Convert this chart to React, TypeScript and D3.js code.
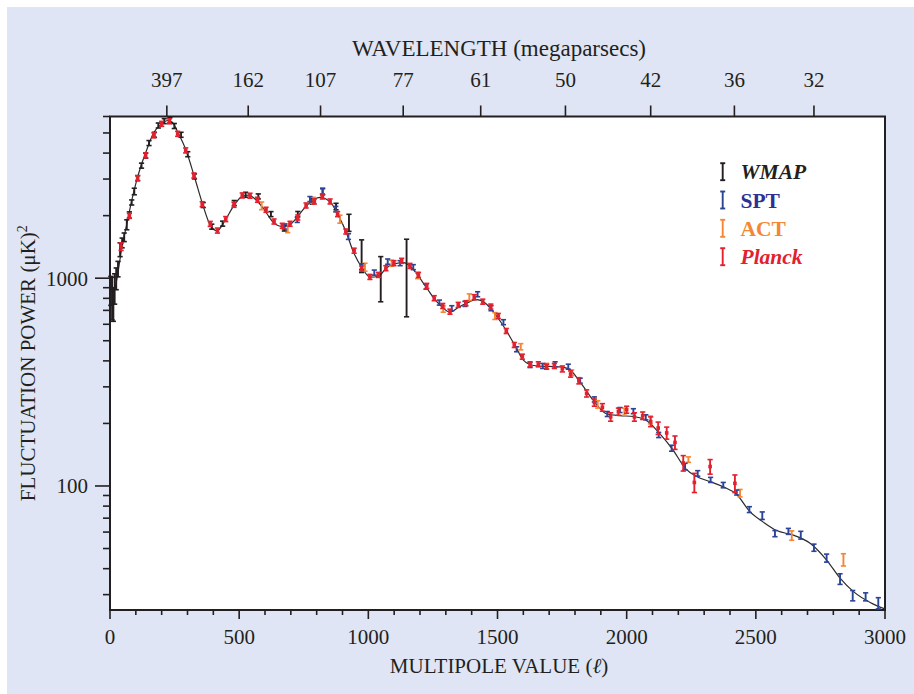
import { useEffect, useRef } from 'react';
import * as d3 from 'd3';

const WIDTH = 914;
const HEIGHT = 694;
const FONT = '"Liberation Serif", "Times New Roman", serif';

// multipole axis
const X_DOMAIN: [number, number] = [0, 3000];
const X_MAJOR = [0, 500, 1000, 1500, 2000, 2500, 3000];
// fluctuation power axis (log)
const Y_DOMAIN: [number, number] = [25.3, 6000];
const Y_LABELS = [100, 1000];
const Y_MINOR = [30, 40, 50, 60, 70, 80, 90, 200, 300, 400, 500, 600, 700, 800, 900, 2000, 3000, 4000, 5000, 6000];
// wavelength ticks on top (multipole position, label in Mpc)
const TOP_TICK_L = [220, 535, 815, 1135, 1435, 1763, 2093, 2417, 2725];
const TOP_TICK_LABELS = ['397', '162', '107', '77', '61', '50', '42', '36', '32'];

// best-fit model curve [l, D]
const MODEL: [number, number][] = [
  [2, 1000], [10, 840], [20, 900], [30, 1050], [45, 1380], [65, 1820], [84, 2365], [103, 2950],
  [123, 3565], [142, 4140], [168, 4980], [200, 5530], [222, 5740], [240, 5650], [264, 5000],
  [294, 4140], [327, 3070], [359, 2260], [387, 1810], [414, 1690], [445, 1890], [477, 2210],
  [510, 2470], [535, 2510], [568, 2365], [600, 2110], [632, 1855], [668, 1770], [697, 1810],
  [729, 2000], [761, 2235], [813, 2450], [852, 2330], [884, 2000], [914, 1670], [942, 1340],
  [974, 1130], [1007, 1011], [1039, 1022], [1071, 1122], [1103, 1173], [1136, 1187], [1168, 1122],
  [1194, 1022], [1226, 897], [1258, 788], [1290, 718], [1316, 686], [1348, 723], [1381, 759],
  [1419, 788], [1452, 759], [1484, 689], [1516, 607], [1548, 523], [1574, 459], [1600, 403],
  [1640, 380], [1700, 376], [1742, 374], [1774, 367], [1820, 316], [1871, 258], [1923, 222],
  [1974, 218], [2026, 216], [2078, 206], [2129, 178], [2181, 148], [2226, 122], [2271, 111],
  [2323, 105], [2374, 99], [2426, 91], [2478, 75], [2529, 67], [2581, 61], [2645, 58],
  [2710, 53], [2774, 44], [2826, 36], [2878, 31], [2955, 27], [3000, 25.6],
];

// measurements [l, D, error]
const WMAP: [number, number, number][] = [
  [3, 880, 140], [8, 820, 190], [13, 760, 140], [18, 900, 150], [24, 1000, 120], [31, 1110, 95],
  [39, 1375, 105], [47, 1480, 80], [55, 1575, 75], [65, 1810, 100], [75, 2015, 70], [84, 2315, 65],
  [94, 2615, 95], [107, 3030, 60], [122, 3480, 95], [138, 3890, 105], [151, 4470, 85],
  [172, 4900, 100], [187, 5430, 60], [210, 5700, 90], [232, 5760, 90], [249, 5400, 90],
  [275, 4900, 90], [301, 3950, 80], [327, 3090, 60], [361, 2250, 45], [394, 1770, 40],
  [436, 1830, 40], [481, 2300, 50], [525, 2520, 55], [574, 2475, 55], [623, 2034, 50],
  [675, 1742, 55], [727, 2034, 60], [783, 2340, 70], [823, 2614, 95], [875, 2213, 80],
  [925, 1855, 175], [974, 1297, 232], [1048, 1020, 250], [1148, 1096, 444],
];

const SPT: [number, number, number][] = [
  [675, 1773, 50], [725, 1910, 55], [774, 2403, 65], [823, 2614, 80], [874, 2150, 65],
  [923, 1587, 50], [974, 1137, 35], [1023, 1064, 30], [1075, 1202, 35], [1123, 1181, 30],
  [1174, 1130, 28], [1223, 911, 24], [1275, 763, 20], [1323, 717, 18], [1374, 752, 18],
  [1423, 837, 20], [1475, 717, 17], [1523, 614, 15], [1574, 455, 12], [1626, 382, 10],
  [1675, 378, 9], [1723, 385, 9], [1774, 375, 9], [1820, 321, 8], [1875, 261, 7],
  [1925, 222, 6], [1974, 232, 6], [2026, 229, 6], [2074, 214, 6], [2124, 176, 5],
  [2174, 152, 5], [2226, 124, 4.5], [2275, 115, 3.5], [2325, 107, 3], [2374, 101, 3],
  [2426, 93, 2.5], [2475, 77, 2.5], [2525, 72, 3], [2574, 59, 2], [2626, 60.5, 2],
  [2674, 58, 2.5], [2725, 50.5, 2], [2774, 45, 2], [2826, 35.7, 2.1], [2875, 29.7, 1.7],
  [2925, 29.3, 1.3], [2974, 27.3, 1.7],
];

const ACT: [number, number, number][] = [
  [587, 2231, 95], [688, 1742, 85], [787, 2366, 85], [890, 1925, 85], [987, 1130, 50],
  [1090, 1181, 40], [1191, 1030, 35], [1290, 711, 25], [1391, 810, 30], [1490, 658, 25],
  [1590, 468, 16], [1690, 378, 11], [1787, 351, 11], [1888, 247, 10], [1991, 228, 9],
  [2092, 208, 9], [2239, 134, 4], [2439, 92.4, 3.8], [2639, 57.8, 3], [2839, 44.2, 3],
];

const PLANCK: [number, number, number][] = [
  [43, 1420, 60], [75, 1995, 55], [107, 3030, 70], [138, 3900, 90], [170, 4870, 90],
  [200, 5530, 90], [230, 5690, 100], [262, 4950, 90], [293, 4120, 75], [325, 3120, 60],
  [357, 2270, 45], [388, 1825, 35], [416, 1695, 30], [448, 1925, 35], [480, 2256, 40],
  [512, 2501, 45], [542, 2493, 45], [571, 2384, 45], [604, 2134, 40], [635, 1874, 35],
  [667, 1787, 35], [697, 1827, 35], [727, 1959, 40], [759, 2238, 45], [791, 2340, 45],
  [822, 2473, 50], [852, 2340, 45], [881, 2034, 40], [913, 1677, 35], [945, 1356, 30],
  [974, 1113, 25], [1006, 1014, 22], [1039, 1037, 22], [1068, 1117, 24], [1099, 1181, 25],
  [1129, 1212, 26], [1161, 1146, 25], [1194, 1037, 22], [1226, 918, 20], [1255, 801, 18],
  [1288, 735, 16], [1316, 690, 15], [1348, 744, 16], [1378, 758, 17], [1410, 810, 18],
  [1443, 771, 17], [1474, 730, 16], [1503, 658, 15], [1534, 557, 13], [1565, 477, 12],
  [1596, 419, 11], [1626, 385, 10], [1658, 385, 10], [1690, 375, 10], [1720, 378, 10],
  [1751, 366, 12], [1783, 346, 12], [1815, 321, 11], [1845, 279, 11], [1875, 252, 10],
  [1906, 239, 10], [1938, 215, 10], [1968, 228, 9], [2000, 233, 9], [2030, 215, 10],
  [2062, 218, 9], [2093, 204, 11], [2122, 190, 13], [2155, 180, 12], [2187, 162, 12],
  [2219, 129, 11], [2262, 104, 11], [2323, 124, 10], [2419, 103, 10],
];

const SERIES = [
  { name: 'WMAP', color: '#231f20', text: '#231f20', italic: true, data: WMAP },
  { name: 'SPT', color: '#2b4496', text: '#2e3192', italic: false, data: SPT },
  { name: 'ACT', color: '#f58634', text: '#f58634', italic: false, data: ACT },
  { name: 'Planck', color: '#e2202e', text: '#e2202e', italic: true, data: PLANCK },
];
// drawing order (Planck on top)
const DRAW_ORDER = ['WMAP', 'ACT', 'SPT', 'Planck'];

export default function App() {
  const svgRef = useRef<SVGSVGElement>(null);

  useEffect(() => {
    if (!svgRef.current) return;
    const svg = d3.select(svgRef.current);
    svg.selectAll('*').remove();

    const left = 110, right = 885, top = 116.5, bottom = 610;
    const x = d3.scaleLinear().domain(X_DOMAIN).range([left, right]);
    const y = d3.scaleLog().domain(Y_DOMAIN).range([bottom, top]);

    svg.append('rect').attr('width', WIDTH).attr('height', HEIGHT).attr('fill', '#ffffff');
    svg.append('rect').attr('x', 7).attr('y', 7).attr('width', WIDTH - 7).attr('height', HEIGHT - 7)
      .attr('fill', '#dfe5f4');
    svg.append('rect').attr('x', left).attr('y', top).attr('width', right - left).attr('height', bottom - top)
      .attr('fill', '#ffffff');

    const ink = '#231f20';
    const axes = svg.append('g').attr('stroke', ink).attr('stroke-width', 1.6);

    // bottom ticks
    d3.range(0, 3001, 100).forEach(v => {
      const len = v % 500 === 0 ? 9 : 5;
      axes.append('line').attr('x1', x(v)).attr('x2', x(v)).attr('y1', bottom).attr('y2', bottom + len);
    });
    // left ticks
    Y_MINOR.forEach(v => {
      axes.append('line').attr('x1', left - 7).attr('x2', left).attr('y1', y(v)).attr('y2', y(v));
    });
    Y_LABELS.forEach(v => {
      axes.append('line').attr('x1', left - 15).attr('x2', left).attr('y1', y(v)).attr('y2', y(v));
    });
    // top ticks
    TOP_TICK_L.forEach(l => {
      axes.append('line').attr('x1', x(l)).attr('x2', x(l)).attr('y1', top).attr('y2', top - 11);
    });

    const text = svg.append('g').attr('font-family', FONT).attr('fill', ink).attr('font-size', 21);

    X_MAJOR.forEach(v => {
      text.append('text').attr('x', x(v)).attr('y', 644).attr('text-anchor', 'middle').text(String(v));
    });
    Y_LABELS.forEach(v => {
      text.append('text').attr('x', 88).attr('y', y(v)).attr('dy', '0.35em').attr('text-anchor', 'end').text(String(v));
    });
    TOP_TICK_L.forEach((l, i) => {
      text.append('text').attr('x', x(l)).attr('y', 87).attr('text-anchor', 'middle').text(TOP_TICK_LABELS[i]);
    });

    text.append('text').attr('x', 499).attr('y', 56).attr('text-anchor', 'middle').attr('font-size', 23)
      .text('WAVELENGTH (megaparsecs)');

    const xl = text.append('text').attr('x', 499).attr('y', 673).attr('text-anchor', 'middle');
    xl.append('tspan').text('MULTIPOLE VALUE (');
    xl.append('tspan').attr('font-style', 'italic').text('ℓ');
    xl.append('tspan').text(')');

    const yl = text.append('text').attr('transform', `translate(35,${(top + bottom) / 2}) rotate(-90)`)
      .attr('text-anchor', 'middle');
    yl.append('tspan').text('FLUCTUATION POWER (μK)');
    yl.append('tspan').attr('font-size', 14).attr('dy', -8).text('2');

    // plot frame
    svg.append('rect').attr('x', left).attr('y', top).attr('width', right - left).attr('height', bottom - top)
      .attr('fill', 'none').attr('stroke', ink).attr('stroke-width', 2);

    // model curve
    const line = d3.line<[number, number]>().x(d => x(d[0])).y(d => y(d[1])).curve(d3.curveMonotoneX);
    svg.append('path').attr('d', line(MODEL) ?? '').attr('fill', 'none').attr('stroke', '#2b2b2b')
      .attr('stroke-width', 1.2);

    // error bars
    const capW = 2.6;
    DRAW_ORDER.forEach(name => {
      const s = SERIES.find(d => d.name === name)!;
      const g = svg.append('g').attr('stroke', s.color).attr('fill', 'none');
      s.data.forEach(([l, d, e]) => {
        const cx = x(l);
        let y1 = y(d + e), y2 = y(Math.max(d - e, 1));
        if (y2 - y1 < 5) {
          const m = y(d);
          y1 = m - 2.5; y2 = m + 2.5;
        }
        g.append('line').attr('x1', cx).attr('x2', cx).attr('y1', y1).attr('y2', y2).attr('stroke-width', 1.9);
        g.append('line').attr('x1', cx - capW).attr('x2', cx + capW).attr('y1', y1).attr('y2', y1).attr('stroke-width', 1.6);
        g.append('line').attr('x1', cx - capW).attr('x2', cx + capW).attr('y1', y2).attr('y2', y2).attr('stroke-width', 1.6);
        if (name === 'Planck') {
          g.append('rect').attr('x', cx - 1.8).attr('y', y(d) - 1.8).attr('width', 3.6).attr('height', 3.6)
            .attr('fill', s.color).attr('stroke', 'none');
        }
      });
    });

    // legend
    const legendY = [171.7, 200, 228.3, 256.7];
    SERIES.forEach((s, i) => {
      const ly = legendY[i];
      const g = svg.append('g').attr('stroke', s.color).attr('stroke-width', 1.9);
      g.append('line').attr('x1', 722.7).attr('x2', 722.7).attr('y1', ly - 8.5).attr('y2', ly + 8.5);
      g.append('line').attr('x1', 720.2).attr('x2', 725.2).attr('y1', ly - 8.5).attr('y2', ly - 8.5);
      g.append('line').attr('x1', 720.2).attr('x2', 725.2).attr('y1', ly + 8.5).attr('y2', ly + 8.5);
      svg.append('text').attr('x', 740.5).attr('y', ly).attr('dy', '0.35em')
        .attr('font-family', FONT).attr('font-size', 21.5).attr('font-weight', 'bold')
        .attr('font-style', s.italic ? 'italic' : 'normal').attr('fill', s.text).text(s.name);
    });
  }, []);

  return (
    <svg ref={svgRef} width={WIDTH} height={HEIGHT}
      style={{ position: 'absolute', left: 0, top: 0, display: 'block' }} />
  );
}
